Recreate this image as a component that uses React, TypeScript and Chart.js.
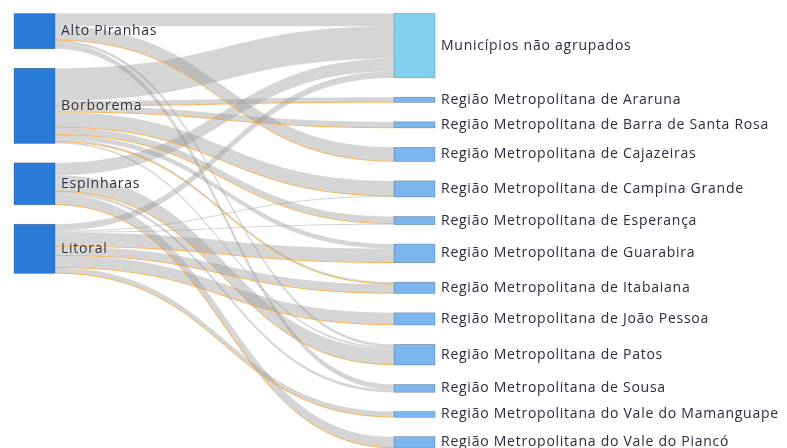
import React, { useEffect, useRef } from "react";
import { Chart, registerables } from "chart.js";

Chart.register(...registerables);

// ---- data ----
const sourceNodes = ["Alto Piranhas", "Borborema", "Espinharas", "Litoral"];
const targetNodes = [
  "Municípios não agrupados",
  "Região Metropolitana de Araruna",
  "Região Metropolitana de Barra de Santa Rosa",
  "Região Metropolitana de Cajazeiras",
  "Região Metropolitana de Campina Grande",
  "Região Metropolitana de Esperança",
  "Região Metropolitana de Guarabira",
  "Região Metropolitana de Itabaiana",
  "Região Metropolitana de João Pessoa",
  "Região Metropolitana de Patos",
  "Região Metropolitana de Sousa",
  "Região Metropolitana do Vale do Mamanguape",
  "Região Metropolitana do Vale do Piancó",
];
// link arrays (index into sourceNodes / targetNodes)
const linkSource = [
  0, 0, 0, 0, 0, 0,
  1, 1, 1, 1, 1, 1, 1, 1, 1, 1, 1, 1, 1,
  2, 2, 2, 2, 2, 2,
  3, 3, 3, 3, 3, 3, 3, 3, 3, 3, 3,
];
const linkTarget = [
  0, 3, 3, 9, 10, 12,
  0, 1, 1, 2, 2, 4, 4, 5, 5, 6, 7, 7, 9,
  0, 9, 9, 10, 12, 12,
  0, 4, 5, 6, 6, 7, 7, 8, 8, 11, 11,
];
const linkValue = [
  14.6, 15.8, 0.5, 3.2, 6, 0.5,
  37.5, 5.5, 0.5, 6.5, 0.5, 17, 0.5, 8, 0.5, 5.5, 2, 0.5, 2,
  14.2, 18, 0.5, 3, 12, 0.5,
  7.6, 1, 1, 15.5, 0.5, 10, 0.5, 13.4, 0.5, 6, 0.5,
];
// 0 = grey flow, 1 = orange flow
const linkGroup = [
  0, 0, 1, 0, 0, 0,
  0, 0, 1, 0, 1, 0, 1, 0, 1, 0, 0, 1, 0,
  0, 0, 1, 0, 0, 1,
  0, 0, 0, 0, 1, 0, 1, 0, 1, 0, 1,
];

// ---- style / layout constants ----
const NODE_WIDTH = 41;
const NODE_PAD = 22.3; // in value units
const PX_PER_UNIT = 0.87;
const TOP_PX = 13.5;
const LEFT_PX = 14;
const COL_GAP_PX = 380;
const W = 787;
const H = 448;

const sankeyPlugin = {
  id: "sankeyDraw",
  afterDraw(chart: any) {
    const ctx = chart.ctx as CanvasRenderingContext2D;
    const xs = chart.scales.x;
    const ys = chart.scales.y;
    const n = linkValue.length;

    const srcTotal = sourceNodes.map(() => 0);
    const tgtTotal = targetNodes.map(() => 0);
    for (let i = 0; i < n; i++) {
      srcTotal[linkSource[i]] += linkValue[i];
      tgtTotal[linkTarget[i]] += linkValue[i];
    }
    const stack = (tot: number[]) => {
      let c = 0;
      return tot.map((v) => {
        const y0 = c;
        c += v + NODE_PAD;
        return [y0, y0 + v];
      });
    };
    const srcY = stack(srcTotal);
    const tgtY = stack(tgtTotal);

    const idx = Array.from({ length: n }, (_, i) => i);
    const srcOff: number[] = new Array(n);
    const tgtOff: number[] = new Array(n);
    sourceNodes.forEach((_, s) => {
      let c = srcY[s][0];
      idx
        .filter((i) => linkSource[i] === s)
        .sort((a, b) => linkTarget[a] - linkTarget[b] || a - b)
        .forEach((i) => {
          srcOff[i] = c;
          c += linkValue[i];
        });
    });
    targetNodes.forEach((_, t) => {
      let c = tgtY[t][0];
      idx
        .filter((i) => linkTarget[i] === t)
        .sort((a, b) => linkSource[a] - linkSource[b] || a - b)
        .forEach((i) => {
          tgtOff[i] = c;
          c += linkValue[i];
        });
    });

    const sxL = xs.getPixelForValue(0);
    const txL = xs.getPixelForValue(1);
    const x0 = sxL + NODE_WIDTH;
    const x1 = txL;
    const xm = (x0 + x1) / 2;
    const py = (u: number) => ys.getPixelForValue(u);

    ctx.save();
    // grey links
    for (let i = 0; i < n; i++) {
      if (linkGroup[i] !== 0) continue;
      const s0 = py(srcOff[i]);
      const s1 = py(srcOff[i] + linkValue[i]);
      const t0 = py(tgtOff[i]);
      const t1 = py(tgtOff[i] + linkValue[i]);
      ctx.beginPath();
      ctx.moveTo(x0, s0);
      ctx.bezierCurveTo(xm, s0, xm, t0, x1, t0);
      ctx.lineTo(x1, t1);
      ctx.bezierCurveTo(xm, t1, xm, s1, x0, s1);
      ctx.closePath();
      ctx.fillStyle = "rgba(150,150,150,0.4)";
      ctx.fill();
    }
    // orange links
    for (let i = 0; i < n; i++) {
      if (linkGroup[i] !== 1) continue;
      const s = py(srcOff[i] + linkValue[i] / 2);
      const t = py(tgtOff[i] + linkValue[i] / 2);
      ctx.beginPath();
      ctx.moveTo(x0, s);
      ctx.bezierCurveTo(xm, s, xm, t, x1, t);
      ctx.strokeStyle = "rgba(250,160,40,0.75)";
      ctx.lineWidth = 1;
      ctx.stroke();
    }
    // nodes
    const drawNode = (x: number, y0: number, y1: number, fill: string) => {
      const a = py(y0);
      const b = py(y1);
      ctx.fillStyle = fill;
      ctx.fillRect(x, a, NODE_WIDTH, b - a);
      ctx.strokeStyle = "rgba(68,68,68,0.6)";
      ctx.lineWidth = 0.5;
      ctx.strokeRect(x, a, NODE_WIDTH, b - a);
    };
    srcY.forEach(([a, b]) => drawNode(sxL, a, b, "#2a7ad8"));
    tgtY.forEach(([a, b], t) => drawNode(txL, a, b, t === 0 ? "#80d0f0" : "#7bb6ef"));

    // labels
    ctx.font = '14px "Open Sans"';
    (ctx as any).letterSpacing = "0.75px";
    ctx.fillStyle = "#2b2b3b";
    ctx.textBaseline = "middle";
    ctx.textAlign = "left";
    ctx.shadowColor = "rgba(255,255,255,0.9)";
    ctx.shadowBlur = 2;
    sourceNodes.forEach((name, s) => {
      ctx.fillText(name, x0 + 6, py((srcY[s][0] + srcY[s][1]) / 2));
    });
    targetNodes.forEach((name, t) => {
      ctx.fillText(name, txL + NODE_WIDTH + 6, py((tgtY[t][0] + tgtY[t][1]) / 2));
    });
    ctx.restore();
  },
};

export default function App() {
  const ref = useRef<HTMLCanvasElement | null>(null);
  useEffect(() => {
    document.body.style.margin = "0";
    if (!ref.current) return;
    const yMin = -TOP_PX / PX_PER_UNIT;
    const chart = new Chart(ref.current, {
      type: "scatter",
      data: { datasets: [] },
      options: {
        animation: false,
        responsive: false,
        events: [],
        layout: { padding: 0 },
        plugins: { legend: { display: false }, tooltip: { enabled: false } },
        scales: {
          x: {
            type: "linear",
            display: false,
            min: -LEFT_PX / COL_GAP_PX,
            max: (W - LEFT_PX) / COL_GAP_PX,
          },
          y: {
            type: "linear",
            display: false,
            reverse: true,
            min: yMin,
            max: yMin + H / PX_PER_UNIT,
          },
        },
      },
      plugins: [sankeyPlugin],
    });
    return () => chart.destroy();
  }, []);
  return (
    <div style={{ width: W, height: H, background: "#fff" }}>
      <canvas ref={ref} width={W} height={H} style={{ display: "block" }} />
    </div>
  );
}
